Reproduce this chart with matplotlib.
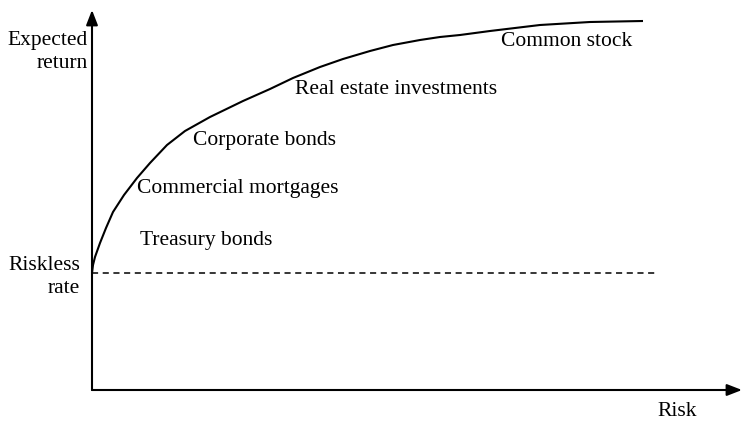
"""Risk/return trade-off sketch: expected return rises with risk, above the riskless rate."""
import matplotlib
matplotlib.use("Agg")
import matplotlib.pyplot as plt

# curve (pixel-style coordinates, y downward)
curve_x = [92, 93, 95, 100, 106, 113, 124, 137, 150, 167, 185, 210, 243, 270,
           293, 320, 343, 370, 393, 420, 440, 460, 490, 540, 590, 643]
curve_y = [273, 265, 257, 243, 228, 212, 195, 178, 163, 145, 131, 117, 101, 89,
           78, 67, 59, 51, 45, 40, 37, 35, 31, 25, 22, 21]

riskless = 273
dash_end = 655

assets = ["Common stock", "Real estate investments", "Corporate bonds",
          "Commercial mortgages", "Treasury bonds"]
asset_x = [501, 295, 193, 137, 140]
asset_y = [41, 89, 140, 189, 240]

plt.rcParams["font.family"] = ["Liberation Serif", "DejaVu Serif"]

fig = plt.figure(figsize=(7.43, 4.21), dpi=100)
ax = fig.add_axes([0, 0, 1, 1])
ax.set_xlim(0, 743)
ax.set_ylim(421, 0)
ax.axis("off")

origin = (92, 390)
arrow = dict(arrowstyle="-|>,head_length=0.9,head_width=0.35", color="black",
             lw=1.5, shrinkA=0, shrinkB=0)
ax.annotate("", xy=(92, 10), xytext=origin, arrowprops=arrow)
ax.annotate("", xy=(742, 390), xytext=origin, arrowprops=arrow)

ax.plot(curve_x, curve_y, color="black", lw=1.5, solid_capstyle="butt",
        solid_joinstyle="round")
ax.plot([92, dash_end], [riskless, riskless], color="black", lw=1.1,
        ls=(0, (4, 3)))

fs = 15.5
for name, x, y in zip(assets, asset_x, asset_y):
    ax.text(x, y, name, fontsize=fs, ha="left", va="center")

ax.text(88, 52, "Expected\nreturn", fontsize=fs, ha="right", va="center",
        multialignment="right", linespacing=1.22)
ax.text(80, 277, "Riskless\nrate", fontsize=fs, ha="right", va="center",
        multialignment="right", linespacing=1.22)
ax.text(677, 412, "Risk", fontsize=fs, ha="center", va="center")

fig.savefig("out.png", dpi=100)
